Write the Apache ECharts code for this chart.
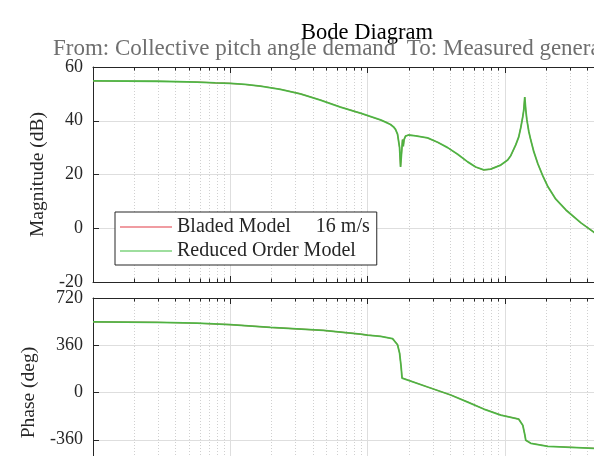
<!DOCTYPE html>
<html>
<head>
<meta charset="utf-8">
<script src="https://cdn.jsdelivr.net/npm/echarts@6/dist/echarts.min.js"></script>
<style>html,body{margin:0;padding:0;background:#fff}#c{width:594px;height:456px}</style>
</head>
<body>
<div id="c"></div>
<script>
// ---- data ----
const titleText = 'Bode Diagram';
const subtitleText = 'From: Collective pitch angle demand  To: Measured generator speed';
const seriesNames = ['Bladed Model     16 m/s', 'Reduced Order Model'];
const magTicks = [-20, 0, 20, 40, 60];
const phaseTicks = [-720, -360, 0, 360, 720];
const magFreq = [0.01, 0.0293, 0.0574, 0.0778, 0.1, 0.1285, 0.1656, 0.2317, 0.3245, 0.454, 0.635, 0.816, 0.889, 1.245, 1.353, 1.472, 1.548, 1.600, 1.655, 1.713, 1.741, 1.771, 1.800, 1.822, 1.847, 1.893, 1.991, 2.24, 2.741, 3.243, 3.837, 4.54, 5.37, 6.14, 7.03, 7.9, 9.35, 10.5, 11.06, 12.02, 12.65, 13.09, 13.53, 13.76, 13.99, 14.23, 14.48, 14.97, 15.48, 16.28, 17.42, 18.93, 20.6, 23.55, 27.9, 35.9, 44.7, 100];
const magDb = [54.8, 54.7, 54.4, 54.1, 53.9, 53.5, 52.9, 51.7, 50.0, 47.7, 45.1, 43.4, 42.8, 40.3, 39.5, 38.6, 37.7, 36.8, 35, 30, 22.8, 28, 33, 30.5, 33, 34.3, 34.7, 34.4, 33.6, 32, 30, 27.5, 24.7, 22.8, 21.7, 22, 23.5, 25.4, 27, 31, 34, 37.5, 41.5, 44, 48.8, 44, 40.5, 36, 32.8, 28.5, 24, 19.5, 15.5, 10.8, 6.8, 2, -1.5, -14];
const phaseFreq = [0.01, 0.0293, 0.0574, 0.1, 0.196, 0.4775, 0.889, 1.0, 1.245, 1.522, 1.655, 1.713, 1.756, 1.786, 1.832, 2.741, 4.04, 5.37, 7.03, 9.35, 12.65, 13.53, 13.99, 14.23, 15.48, 20.6, 44.7, 100];
const phaseDeg = [538, 535, 528, 517, 496, 473, 445, 437, 428, 410, 364, 300, 200, 110, 96, 42, -19, -73, -126, -172, -203, -249, -320, -364, -387, -410, -425, -432];
const bladedMag = magDb.slice();
const bladedPhase = phaseDeg.slice();

const pair = (xs, ys) => xs.map((x, i) => [x, ys[i]]);
const FONT = 'Liberation Serif';
const AX = '#262626';
const RED = '#e23a44';
const GREEN = '#3fbd3f';

function xAx(grid, pos, withGrid) {
  return {
    type: 'log', logBase: 10, gridIndex: grid, position: pos,
    min: 0.01, max: 100,
    axisLine: { show: true, onZero: false, lineStyle: { color: AX, width: 1 } },
    axisTick: { show: true, inside: true, length: 6, lineStyle: { color: AX } },
    minorTick: { show: true, splitNumber: 9, length: 3.5, lineStyle: { color: AX } },
    axisLabel: { show: false },
    splitLine: { show: withGrid, lineStyle: { color: '#dedede', width: 1 } },
    minorSplitLine: { show: withGrid, lineStyle: { color: '#d0d0d0', width: 1, type: [1, 2] } }
  };
}
function yAx(grid, min, max, interval, name, nameGap) {
  return {
    type: 'value', gridIndex: grid, min: min, max: max, interval: interval,
    name: name, nameLocation: 'middle', nameRotate: 90, nameGap: nameGap,
    nameTextStyle: { fontFamily: FONT, fontSize: 19.5, color: AX },
    axisLine: { show: true, lineStyle: { color: AX, width: 1 } },
    axisTick: { show: true, inside: true, length: 6, lineStyle: { color: AX } },
    axisLabel: { fontFamily: FONT, fontSize: 18, color: AX, margin: 10 },
    splitLine: { show: true, lineStyle: { color: '#dedede', width: 1 } }
  };
}

const chart = echarts.init(document.getElementById('c'), null, { renderer: 'canvas' });
chart.setOption({
  animation: false,
  backgroundColor: '#fff',
  title: [
    { text: titleText, left: 367, top: 22, textAlign: 'center', padding: 0,
      textStyle: { fontFamily: FONT, fontSize: 22.5, fontWeight: 'normal', color: '#000' } },
    { text: subtitleText, left: 53, top: 37, padding: 0,
      textStyle: { fontFamily: FONT, fontSize: 23, fontWeight: 'normal', color: '#6f6f6f' } }
  ],
  grid: [
    { left: 93, top: 67, width: 549, height: 215, outerBoundsMode: 'none' },
    { left: 93, top: 298, width: 549, height: 189, outerBoundsMode: 'none' }
  ],
  xAxis: [xAx(0, 'bottom', true), xAx(0, 'top', false), xAx(1, 'bottom', true), xAx(1, 'top', false)],
  yAxis: [
    yAx(0, magTicks[0], magTicks[magTicks.length - 1], 20, 'Magnitude (dB)', 41),
    yAx(1, phaseTicks[0], phaseTicks[phaseTicks.length - 1], 360, 'Phase (deg)', 41)
  ],
  legend: {
    orient: 'vertical', left: 115, top: 212,
    padding: [5, 7, 4, 5], itemGap: 4, itemWidth: 52, itemHeight: 14,
    backgroundColor: '#fff', borderColor: AX, borderWidth: 1, borderRadius: 0,
    textStyle: { fontFamily: FONT, fontSize: 20, color: AX, lineHeight: 20 },
    data: [
      { name: seriesNames[0], icon: 'path://M0,0L52,0L52,1L0,1Z', itemStyle: { color: RED } },
      { name: seriesNames[1], icon: 'path://M0,0L52,0L52,1L0,1Z', itemStyle: { color: GREEN } }
    ]
  },
  series: [
    { name: seriesNames[0], type: 'line', xAxisIndex: 0, yAxisIndex: 0, data: pair(magFreq, bladedMag),
      symbol: 'none', lineStyle: { color: RED, width: 1.1 }, itemStyle: { color: RED }, z: 3 },
    { name: seriesNames[1], type: 'line', xAxisIndex: 0, yAxisIndex: 0, data: pair(magFreq, magDb),
      symbol: 'none', lineStyle: { color: GREEN, width: 1.8, opacity: 0.9 }, itemStyle: { color: GREEN }, z: 4 },
    { name: seriesNames[0], type: 'line', xAxisIndex: 2, yAxisIndex: 1, data: pair(phaseFreq, bladedPhase),
      symbol: 'none', lineStyle: { color: RED, width: 1.1 }, itemStyle: { color: RED }, z: 3 },
    { name: seriesNames[1], type: 'line', xAxisIndex: 2, yAxisIndex: 1, data: pair(phaseFreq, phaseDeg),
      symbol: 'none', lineStyle: { color: GREEN, width: 1.8, opacity: 0.9 }, itemStyle: { color: GREEN }, z: 4 }
  ]
});
</script>
</body>
</html>
